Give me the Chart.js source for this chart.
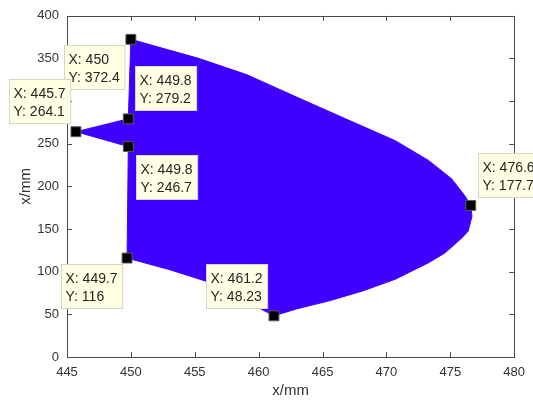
<!DOCTYPE html>
<html>
<head>
<meta charset="utf-8">
<script src="https://cdn.jsdelivr.net/npm/chart.js@4.4.1/dist/chart.umd.min.js"></script>
<style>
html, body { margin: 0; padding: 0; background: #fff; }
#wrap { width: 533px; height: 404px; }
</style>
</head>
<body>
<div id="wrap"><canvas id="shape_chart"></canvas></div>
<script>
// outline of the blue region (x/mm, y/mm)
var outlineX = [450, 455.3, 459.1, 463.0, 466.9, 470.7, 473.3, 475.1, 476.1, 476.6, 476.7, 476.4, 475.9, 474.6, 473.3, 470.7, 468.2, 465.6, 463.0, 461.2, 460.3, 458.5, 456.2, 453.0, 449.7, 449.8, 445.7, 449.8, 450];
var outlineY = [372.4, 350.1, 330.8, 304.5, 278.6, 253.6, 230.4, 209.0, 189.8, 177.7, 165.0, 147.5, 139.5, 122.1, 110.5, 91.2, 77.7, 66.1, 56.5, 48.23, 55.3, 72.0, 87.3, 102.5, 116, 246.7, 264.1, 279.2, 372.4];

// data tips
var tipX = [450, 449.8, 445.7, 449.8, 449.7, 461.2, 476.6];
var tipY = [372.4, 279.2, 264.1, 246.7, 116, 48.23, 177.7];
var tipTextX = ['450', '449.8', '445.7', '449.8', '449.7', '461.2', '476.6'];
var tipTextY = ['372.4', '279.2', '264.1', '246.7', '116', '48.23', '177.7'];

var xTicks = [445, 450, 455, 460, 465, 470, 475, 480];
var yTicks = [0, 50, 100, 150, 200, 250, 300, 350, 400];

// where each tip box sits relative to its marker (pixels)
var tipOffsets = [[-67, 6], [7, -53], [-67, -53], [8, 8], [-66, 6], [-68, -52], [7, -52]];

const FONT = '"Liberation Sans", Arial, sans-serif';
const AXIS_COLOR = '#4a4a4a';

function toPoints(xs, ys) {
    var pts = [];
    for (var i = 0; i < xs.length; i++) {
        pts.push({x: xs[i], y: ys[i]});
    }
    return pts;
}

/*
 * Draws the MATLAB style box around the axes, inward ticks on all sides
 * and the yellow data tip boxes
 */
const matlabPlugin = {
    id: 'matlabPlugin',
    afterDatasetsDraw: function(chart) {
        const ctx = chart.ctx;
        const area = chart.chartArea;
        const xs = chart.scales.x;
        const ys = chart.scales.y;
        ctx.save();
        ctx.strokeStyle = AXIS_COLOR;
        ctx.lineWidth = 1;
        ctx.beginPath();
        xTicks.forEach(function(v) {
            const px = Math.round(xs.getPixelForValue(v)) + 0.5;
            ctx.moveTo(px, area.bottom);
            ctx.lineTo(px, area.bottom - 5);
            ctx.moveTo(px, area.top);
            ctx.lineTo(px, area.top + 5);
        });
        yTicks.forEach(function(v) {
            const py = Math.round(ys.getPixelForValue(v)) + 0.5;
            ctx.moveTo(area.left, py);
            ctx.lineTo(area.left + 5, py);
            ctx.moveTo(area.right, py);
            ctx.lineTo(area.right - 5, py);
        });
        ctx.stroke();
        ctx.strokeRect(Math.round(area.left) + 0.5, Math.round(area.top) + 0.5,
            Math.round(area.right - area.left), Math.round(area.bottom - area.top));
        ctx.restore();
    },
    afterDraw: function(chart) {
        const ctx = chart.ctx;
        const xs = chart.scales.x;
        const ys = chart.scales.y;
        ctx.save();
        ctx.font = '14px ' + FONT;
        ctx.textBaseline = 'middle';
        for (var i = 0; i < tipX.length; i++) {
            const px = xs.getPixelForValue(tipX[i]);
            const py = ys.getPixelForValue(tipY[i]);
            const l1 = 'X: ' + tipTextX[i];
            const l2 = 'Y: ' + tipTextY[i];
            const w = Math.max(ctx.measureText(l1).width, ctx.measureText(l2).width) + 9;
            const bx = Math.round(px + tipOffsets[i][0]) + 0.5;
            const by = Math.round(py + tipOffsets[i][1]) + 0.5;
            ctx.fillStyle = 'rgb(255,255,228)';
            ctx.fillRect(bx, by, w, 44);
            ctx.strokeStyle = '#d6d6c4';
            ctx.strokeRect(bx, by, w, 44);
            ctx.fillStyle = '#262626';
            ctx.fillText(l1, bx + 4, by + 15);
            ctx.fillText(l2, bx + 4, by + 33);
        }
        ctx.restore();
    }
};

const config = {
    type: 'line',
    data: {
        datasets: [{
            label: 'shape',
            order: 2,
            data: toPoints(outlineX, outlineY),
            backgroundColor: 'rgb(64, 0, 255)',
            borderColor: 'rgb(64, 0, 255)',
            borderWidth: 1,
            fill: 'shape',
            pointRadius: 0,
            tension: 0
        }, {
            label: 'tips',
            order: 1,
            data: toPoints(tipX, tipY),
            showLine: false,
            fill: false,
            pointStyle: 'rect',
            pointRadius: 7,
            pointBackgroundColor: '#000',
            pointBorderColor: '#5a5a4a',
            pointBorderWidth: 1
        }]
    },
    options: {
        responsive: true,
        maintainAspectRatio: false,
        animation: false,
        layout: {
            padding: {top: 12, right: 13, left: 0, bottom: 0}
        },
        scales: {
            x: {
                type: 'linear',
                min: 445,
                max: 480,
                afterBuildTicks: function(scale) {
                    scale.ticks = xTicks.map(function(v) { return {value: v}; });
                },
                afterFit: function(scale) { scale.height = 47; },
                grid: {display: false, drawTicks: false},
                border: {display: false},
                ticks: {
                    padding: 8,
                    color: '#333',
                    font: {family: FONT, size: 13},
                    maxRotation: 0
                },
                title: {
                    display: true,
                    text: 'x/mm',
                    color: '#333',
                    font: {family: FONT, size: 15},
                    padding: {top: 0, bottom: 4}
                }
            },
            y: {
                type: 'linear',
                min: 0,
                max: 400,
                afterBuildTicks: function(scale) {
                    scale.ticks = yTicks.map(function(v) { return {value: v}; });
                },
                afterFit: function(scale) { scale.width = 67; },
                grid: {display: false, drawTicks: false},
                border: {display: false},
                ticks: {
                    padding: 8,
                    color: '#333',
                    font: {family: FONT, size: 13}
                },
                title: {
                    display: true,
                    text: 'x/mm',
                    color: '#333',
                    font: {family: FONT, size: 15},
                    padding: {top: 17, bottom: 0}
                }
            }
        },
        plugins: {
            legend: {display: false},
            tooltip: {enabled: false},
            title: {display: false}
        }
    },
    plugins: [matlabPlugin]
};

const myChart = new Chart(document.getElementById('shape_chart'), config);
</script>
</body>
</html>
